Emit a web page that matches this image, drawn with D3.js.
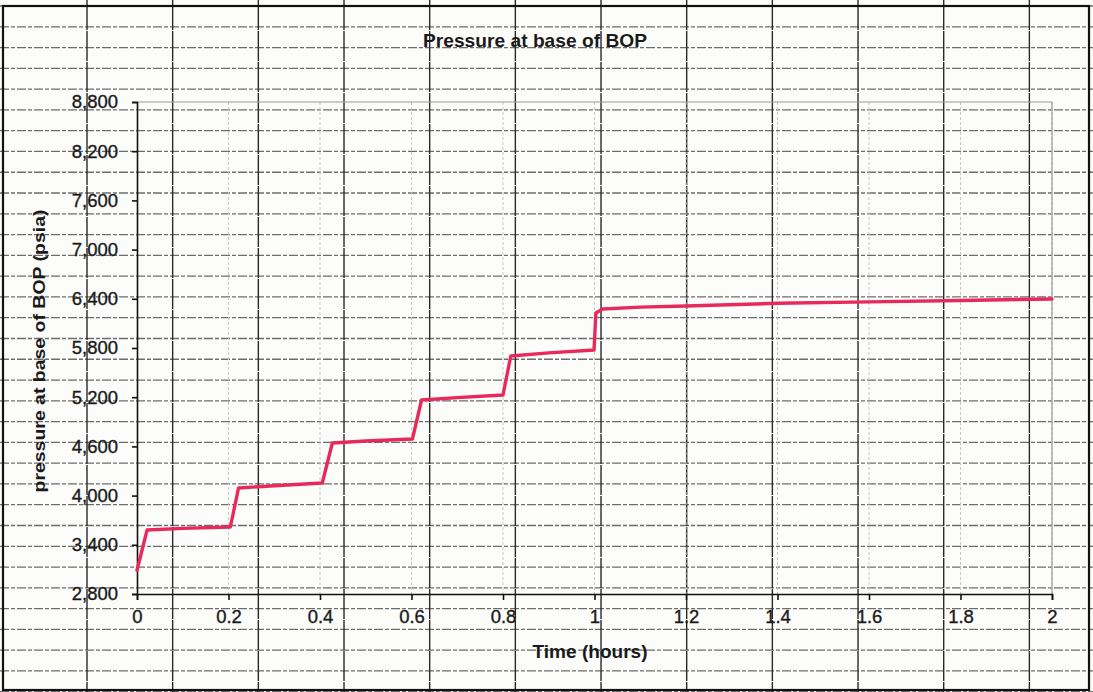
<!DOCTYPE html>
<html><head><meta charset="utf-8">
<script src="https://cdn.jsdelivr.net/npm/d3@7"></script>
<style>
html,body{margin:0;padding:0;background:#fcfcfb;}
svg{display:block;}
text{font-family:"Liberation Sans",Arial,sans-serif;fill:#1a1a1a;}
</style></head>
<body>
<svg id="c" width="1093" height="692"></svg>
<script>
// Data
const timeHours = [0, 0.022, 0.1, 0.204, 0.222, 0.3, 0.405, 0.427, 0.5, 0.602, 0.622, 0.7, 0.80, 0.817, 0.9, 0.999, 1.003, 1.018, 1.1, 1.2, 1.4, 1.6, 1.8, 2.0];
const pressurePsia = [3090, 3580, 3600, 3617, 4093, 4120, 4154, 4641, 4665, 4690, 5166, 5195, 5227, 5702, 5740, 5776, 6227, 6275, 6298, 6312, 6345, 6362, 6380, 6398];
const xTicks = [0, 0.2, 0.4, 0.6, 0.8, 1, 1.2, 1.4, 1.6, 1.8, 2];
const yTicks = [2800, 3400, 4000, 4600, 5200, 5800, 6400, 7000, 7600, 8200, 8800];
const chartTitle = "Pressure at base of BOP";
const xTitle = "Time (hours)";
const yTitle = "pressure at base of BOP (psia)";

const W = 1093, H = 692;
const svg = d3.select("#c");
const plot = {left:137, right:1052, top:102, bottom:594};

// spreadsheet background grid
const sheet = svg.append("g");
const hLines = d3.range(0, 34).map(k => 6 + k*20.78);
sheet.selectAll("line.h").data(hLines).join("line")
  .attr("x1",0).attr("x2",W).attr("y1",d=>d).attr("y2",d=>d)
  .attr("stroke","#4a4a4a").attr("stroke-width",1.3).attr("stroke-dasharray","9,2,4,2").attr("opacity",0.8);
const vLines = d3.range(0, 12).map(k => 87 + k*85.67);
sheet.selectAll("line.v").data(vLines).join("line")
  .attr("x1",d=>d).attr("x2",d=>d).attr("y1",0).attr("y2",H)
  .attr("stroke","#2a2a2a").attr("stroke-width",1.4).attr("stroke-dasharray","30,1");

// chart area border
svg.append("rect").attr("x",3).attr("y",6).attr("width",1086).attr("height",684)
  .attr("fill","none").attr("stroke","#111").attr("stroke-width",2.2);

const x = d3.scaleLinear().domain([0,2]).range([plot.left, plot.right]);
const y = d3.scaleLinear().domain([2800,8800]).range([plot.bottom, plot.top]);

// faint vertical chart gridlines
svg.append("g").selectAll("line").data(xTicks.slice(1)).join("line")
  .attr("x1",d=>x(d)).attr("x2",d=>x(d)).attr("y1",plot.top).attr("y2",plot.bottom)
  .attr("stroke","#c8c8c8").attr("stroke-width",1).attr("stroke-dasharray","3,2");
// plot area frame (top + right faint)
svg.append("path")
  .attr("d",`M${plot.left},${plot.top}H${plot.right}V${plot.bottom}`)
  .attr("fill","none").attr("stroke","#9a9a9a").attr("stroke-width",1.2);

// axes
const yAxis = svg.append("g").attr("transform",`translate(${plot.left},0)`)
  .call(d3.axisLeft(y).tickValues(yTicks).tickSize(5).tickPadding(14).tickFormat(d3.format(",")));
const xAxis = svg.append("g").attr("transform",`translate(0,${plot.bottom})`)
  .call(d3.axisBottom(x).tickValues(xTicks).tickSize(6).tickPadding(10).tickFormat(d=>String(d)));
[yAxis,xAxis].forEach(a=>{
  a.select(".domain").attr("stroke","#111").attr("stroke-width",1.6);
  a.selectAll(".tick line").attr("stroke","#111").attr("stroke-width",1.6);
  a.selectAll(".tick text").attr("font-size",18.5).attr("fill","#1a1a1a")
    .attr("stroke","#1a1a1a").attr("stroke-width",0.35)
    .attr("font-family",'"Liberation Sans",Arial,sans-serif');
});
xAxis.selectAll(".tick text").attr("dy","0.72em");

// line
const line = d3.line().x((d,i)=>x(timeHours[i])).y(d=>y(d));
svg.append("path").datum(pressurePsia).attr("d",line)
  .attr("fill","none").attr("stroke","#e8295c").attr("stroke-width",3.4)
  .attr("stroke-linejoin","round").attr("stroke-linecap","round");

// titles
svg.append("text").attr("x",535).attr("y",47).attr("text-anchor","middle")
  .attr("font-size",18.5).attr("font-weight","bold").attr("textLength",224).attr("lengthAdjust","spacingAndGlyphs")
  .text(chartTitle);
svg.append("text").attr("x",590).attr("y",658).attr("text-anchor","middle")
  .attr("font-size",18).attr("font-weight","bold").attr("textLength",115).attr("lengthAdjust","spacingAndGlyphs")
  .text(xTitle);
svg.append("text").attr("transform","translate(45,351) rotate(-90)").attr("text-anchor","middle")
  .attr("font-size",17).attr("font-weight","bold").attr("textLength",283).attr("lengthAdjust","spacingAndGlyphs")
  .text(yTitle);
</script>
</body></html>
